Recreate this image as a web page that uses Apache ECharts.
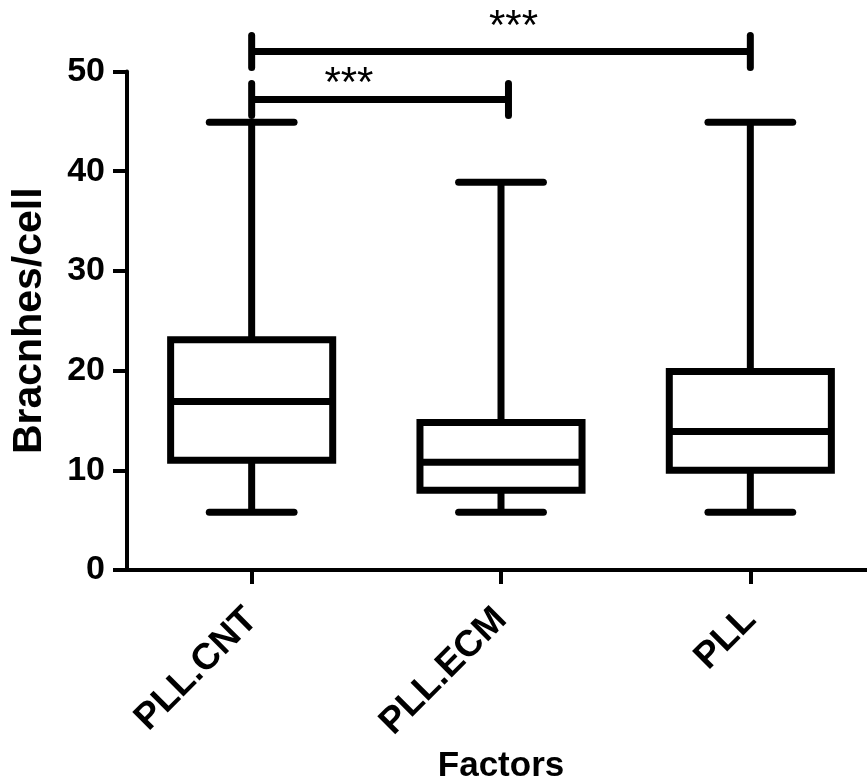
<!DOCTYPE html>
<html><head><meta charset="utf-8">
<script src="https://cdn.jsdelivr.net/npm/echarts@6/dist/echarts.min.js"></script>
<style>html,body{margin:0;padding:0;background:#fff}#c{width:867px;height:781px}</style>
</head><body><div id="c"></div>
<script>
// ---- data ----
const categories = ['PLL.CNT', 'PLL.ECM', 'PLL'];
const whiskerLow = [5.8, 5.8, 5.8];
const q1 = [11.0, 8.0, 10.0];
const median = [16.9, 10.8, 13.9];
const q3 = [23.1, 14.8, 19.9];
const whiskerHigh = [44.9, 38.9, 44.9];
const yTickValues = [0, 10, 20, 30, 40, 50];
// significance brackets (positions on category index scale)
const bracketStart = [0, 0];
const bracketEnd = [1.03, 2];
const bracketLevel = [47.2, 52.0];
const starLabels = ['***', '***'];
const starX = [0.39, 1.05];
const starY = [48.7, 54.4];

const FONT = '"Liberation Sans", Arial, sans-serif';
const chart = echarts.init(document.getElementById('c'), null, {renderer: 'canvas'});

const boxData = categories.map((c, i) => [i, whiskerLow[i], q1[i], median[i], q3[i], whiskerHigh[i]]);
const bracketData = bracketStart.map((s, i) => [s, bracketEnd[i], bracketLevel[i]]);
const starData = starLabels.map((s, i) => [starX[i], starY[i], s]);

const LW = 7;
function renderBox(params, api) {
  const i = api.value(0);
  const band = api.size([1, 0])[0];
  const cx = api.coord([i, 0])[0];
  const hw = band * 0.325, cw = band * 0.17;
  const yLo = api.coord([i, api.value(1)])[1];
  const yQ1 = api.coord([i, api.value(2)])[1];
  const yMed = api.coord([i, api.value(3)])[1];
  const yQ3 = api.coord([i, api.value(4)])[1];
  const yHi = api.coord([i, api.value(5)])[1];
  const st = {stroke: '#000', lineWidth: LW, fill: null};
  const stc = {stroke: '#000', lineWidth: LW, fill: null, lineCap: 'round'};
  return {type: 'group', children: [
    {type: 'line', shape: {x1: cx, y1: yQ3, x2: cx, y2: yHi}, style: st},
    {type: 'line', shape: {x1: cx, y1: yQ1, x2: cx, y2: yLo}, style: st},
    {type: 'line', shape: {x1: cx - cw, y1: yHi, x2: cx + cw, y2: yHi}, style: stc},
    {type: 'line', shape: {x1: cx - cw, y1: yLo, x2: cx + cw, y2: yLo}, style: stc},
    {type: 'rect', shape: {x: cx - hw, y: yQ3, width: 2 * hw, height: yQ1 - yQ3}, style: {stroke: '#000', lineWidth: LW, fill: '#fff'}},
    {type: 'line', shape: {x1: cx - hw, y1: yMed, x2: cx + hw, y2: yMed}, style: st}
  ]};
}
function renderBracket(params, api) {
  const a = api.coord([api.value(0), api.value(2)]);
  const b = api.coord([api.value(1), api.value(2)]);
  const st = {stroke: '#000', lineWidth: LW, fill: null};
  const stc = {stroke: '#000', lineWidth: LW, fill: null, lineCap: 'round'};
  const h = 16;
  return {type: 'group', children: [
    {type: 'line', shape: {x1: a[0], y1: a[1], x2: b[0], y2: b[1]}, style: st},
    {type: 'line', shape: {x1: a[0], y1: a[1] - h, x2: a[0], y2: a[1] + h}, style: stc},
    {type: 'line', shape: {x1: b[0], y1: b[1] - h, x2: b[0], y2: b[1] + h}, style: stc}
  ]};
}
function renderStars(params, api) {
  const p = api.coord([api.value(0), api.value(1)]);
  return {type: 'text', style: {
    text: starLabels[params.dataIndex], x: p[0], y: p[1],
    align: 'center', verticalAlign: 'middle', textAlign: 'center', textVerticalAlign: 'middle',
    fill: '#000', font: 'normal 42px ' + FONT
  }};
}

chart.setOption({
  animation: false,
  backgroundColor: '#fff',
  grid: {left: 127, right: -8, top: 71.5, bottom: 211, containLabel: false, outerBoundsMode: 'none'},
  xAxis: [{
    type: 'category', data: categories, boundaryGap: true,
    axisLine: {onZero: false, lineStyle: {color: '#000', width: 4}},
    axisTick: {show: true, alignWithLabel: true, length: 14, lineStyle: {color: '#000', width: 4}},
    axisLabel: {rotate: 45, margin: 44, fontSize: 37, fontWeight: 'bold', color: '#000', fontFamily: FONT},
    splitLine: {show: false},
    name: 'Factors', nameLocation: 'middle', nameGap: 176,
    nameTextStyle: {fontSize: 35, fontWeight: 'bold', color: '#000', fontFamily: FONT}
  }, {
    type: 'value', min: -0.5, max: 2.5, show: false
  }],
  yAxis: {
    type: 'value', min: yTickValues[0], max: yTickValues[yTickValues.length - 1], interval: 10,
    axisLine: {show: true, onZero: false, lineStyle: {color: '#000', width: 4}},
    axisTick: {show: true, length: 14, lineStyle: {color: '#000', width: 4}},
    axisLabel: {margin: 22, fontSize: 34, fontWeight: 'bold', color: '#000', fontFamily: FONT},
    splitLine: {show: false},
    name: 'Bracnhes/cell', nameLocation: 'middle', nameGap: 77,
    nameTextStyle: {fontSize: 41, fontWeight: 'bold', color: '#000', fontFamily: FONT}
  },
  series: [
    {type: 'custom', xAxisIndex: 0, yAxisIndex: 0, clip: false, data: boxData, renderItem: renderBox, silent: true},
    {type: 'custom', xAxisIndex: 1, yAxisIndex: 0, clip: false, data: bracketData, renderItem: renderBracket, silent: true},
    {type: 'custom', xAxisIndex: 1, yAxisIndex: 0, clip: false, data: starData, renderItem: renderStars, silent: true}
  ]
});
</script></body></html>
